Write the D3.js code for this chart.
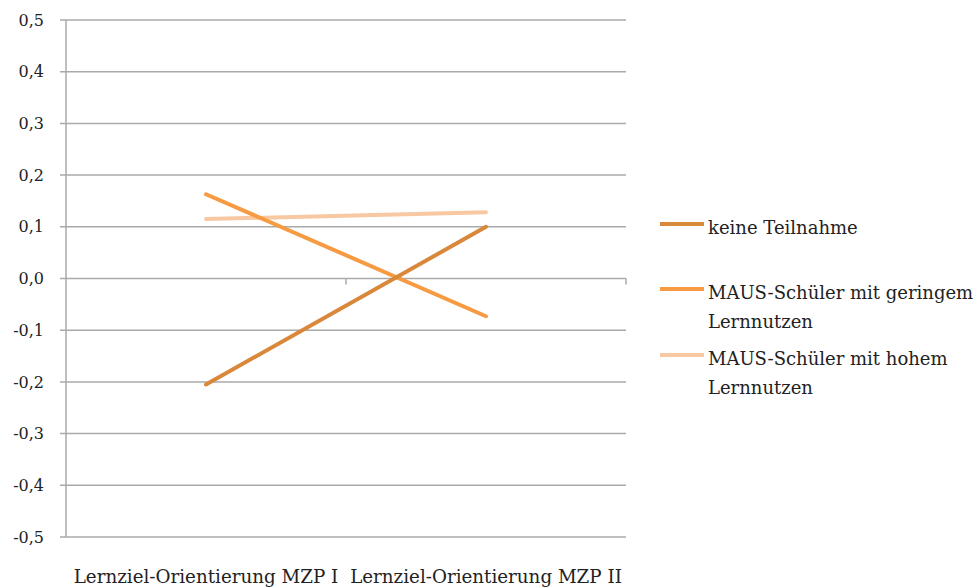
<!DOCTYPE html>
<html>
<head>
<meta charset="utf-8">
<script src="https://cdn.jsdelivr.net/npm/d3@7"></script>
<style>
  body { margin: 0; background: #fff; }
</style>
</head>
<body>
<div id="chart"></div>
<script>
// data
var categories = ["Lernziel-Orientierung MZP I", "Lernziel-Orientierung MZP II"];
var seriesNames = ["keine Teilnahme", "MAUS-Schüler mit geringem Lernnutzen", "MAUS-Schüler mit hohem Lernnutzen"];
var keineTeilnahme = [-0.205, 0.100];
var geringerNutzen = [0.163, -0.073];
var hoherNutzen = [0.115, 0.128];
var yTicks = [0.5, 0.4, 0.3, 0.2, 0.1, 0, -0.1, -0.2, -0.3, -0.4, -0.5];

var colors = ["#d9873a", "#f79b43", "#f8c8a2"];
var legendLines = [["keine Teilnahme"], ["MAUS-Schüler mit geringem", "Lernnutzen"], ["MAUS-Schüler mit hohem", "Lernnutzen"]];

var FONT = "'DejaVu Serif', 'Liberation Serif', serif";
var W = 979, H = 588;
var margin = {top: 20, left: 66},
    width = 560,
    height = 517;

var svg = d3.select("#chart")
  .append("svg")
  .attr("width", W)
  .attr("height", H)
  .attr("font-family", FONT);

var g = svg.append("g")
  .attr("transform", "translate(" + margin.left + "," + margin.top + ")");

var x = d3.scaleBand()
  .domain(categories)
  .range([0, width]);

var y = d3.scaleLinear()
  .domain([-0.5, 0.5])
  .range([height, 0]);

var fmt = function(d) { return d3.format(".1f")(d).replace(".", ",").replace("−", "-"); };

// gridlines
g.selectAll(".grid")
  .data(yTicks)
  .enter().append("line")
  .attr("x1", -6)
  .attr("x2", width)
  .attr("y1", function(d) { return y(d); })
  .attr("y2", function(d) { return y(d); })
  .attr("stroke", "#aaa")
  .attr("stroke-width", 1.5);

// y axis line
g.append("line")
  .attr("x1", 0).attr("x2", 0)
  .attr("y1", 0).attr("y2", height)
  .attr("stroke", "#aaa")
  .attr("stroke-width", 1.5);

// y labels
g.selectAll(".ylab")
  .data(yTicks)
  .enter().append("text")
  .attr("x", -22)
  .attr("y", function(d) { return y(d); })
  .attr("dy", "0.35em")
  .attr("text-anchor", "end")
  .attr("fill", "#222")
  .style("font-size", "16px")
  .text(fmt);

// category ticks on zero line
var bounds = categories.map(function(c) { return x(c) + x.bandwidth(); });
g.selectAll(".xtick")
  .data(bounds)
  .enter().append("line")
  .attr("x1", function(d) { return d; })
  .attr("x2", function(d) { return d; })
  .attr("y1", y(0))
  .attr("y2", y(0) + 6)
  .attr("stroke", "#aaa")
  .attr("stroke-width", 1.5);

// x labels
g.selectAll(".xlab")
  .data(categories)
  .enter().append("text")
  .attr("x", function(d) { return x(d) + x.bandwidth() / 2; })
  .attr("y", height + 46)
  .attr("text-anchor", "middle")
  .attr("fill", "#222")
  .style("font-size", "18.3px")
  .text(function(d) { return d; });

// lines
var allSeries = [keineTeilnahme, geringerNutzen, hoherNutzen];
var line = d3.line()
  .x(function(d, i) { return x(categories[i]) + x.bandwidth() / 2; })
  .y(function(d) { return y(d); });

// draw light one first, then others
[2, 1, 0].forEach(function(k) {
  g.append("path")
    .datum(allSeries[k])
    .attr("fill", "none")
    .attr("stroke", colors[k])
    .attr("stroke-width", 4)
    .attr("stroke-linecap", "round")
    .attr("d", line);
});

// legend
var legendY = [224, 289, 355];
var legend = svg.append("g");
legendLines.forEach(function(lines, i) {
  legend.append("line")
    .attr("x1", 660).attr("x2", 704)
    .attr("y1", legendY[i]).attr("y2", legendY[i])
    .attr("stroke", colors[i])
    .attr("stroke-width", 4);
  lines.forEach(function(t, j) {
    legend.append("text")
      .attr("x", 708)
      .attr("y", legendY[i] + 10 + j * 29)
      .attr("fill", "#222")
      .style("font-size", "18px")
      .text(t);
  });
});
</script>
</body>
</html>
